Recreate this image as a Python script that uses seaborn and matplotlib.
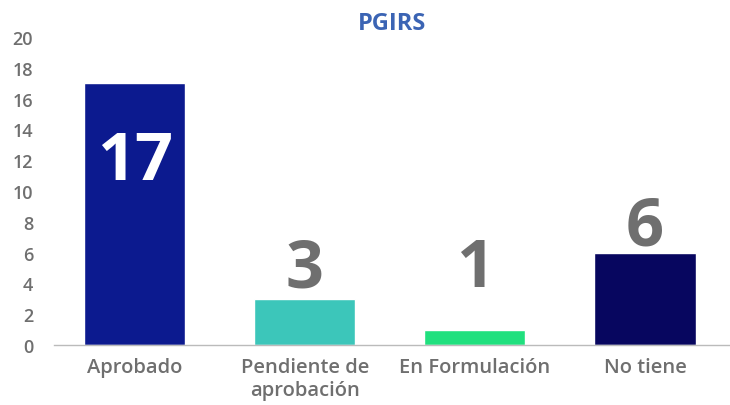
import matplotlib
matplotlib.use("Agg")
import matplotlib.pyplot as plt
import seaborn as sns
import pandas as pd

categories = ["Aprobado", "Pendiente de\naprobación", "En Formulación", "No tiene"]
values = [17, 3, 1, 6]
colors = ["#0C1A8F", "#3CC6BA", "#20E07E", "#07065F"]
title = "PGIRS"
yticks = list(range(0, 21, 2))

sns.set_theme(style="white")
plt.rcParams['font.family'] = ['Open Sans', 'DejaVu Sans']

df = pd.DataFrame({"cat": categories, "val": values})

fig = plt.figure(figsize=(7.3, 4.06), dpi=100)
ax = fig.add_axes([0.074, 0.148, 0.926, 0.758])
sns.barplot(data=df, x="cat", y="val", hue="cat", palette=colors, legend=False,
            width=0.595, ax=ax, saturation=1)

ax.set_ylim(0, 20)
ax.set_xlim(-0.474, 3.5)
ax.set_yticks(yticks)
ax.set_xlabel("")
ax.set_ylabel("")
gray = "#6F6F6F"
ax.tick_params(axis="y", length=0, pad=15, labelsize=13, labelcolor=gray)
ax.tick_params(axis="x", length=0, pad=9, labelsize=14.5, labelcolor=gray)
for lab in ax.get_yticklabels() + ax.get_xticklabels():
    lab.set_fontweight("semibold")
    lab.set_linespacing(1.15)
for s in ["left", "top", "right"]:
    ax.spines[s].set_visible(False)
ax.spines["bottom"].set_color("#BBBBBB")
ax.spines["bottom"].set_linewidth(1)
ax.set_title(title, color="#3B64B4", fontsize=17, fontweight="bold", pad=6)

for i, v in enumerate(values):
    if v >= 10:
        ax.text(i, v - 6.2, str(v), ha="center", va="baseline", color="white",
                fontsize=48, fontweight="bold")
    else:
        ax.text(i, max(v, 3.3) + 0.5, str(v), ha="center", va="baseline", color=gray,
                fontsize=48, fontweight="bold")

fig.savefig("out.png", dpi=100)
